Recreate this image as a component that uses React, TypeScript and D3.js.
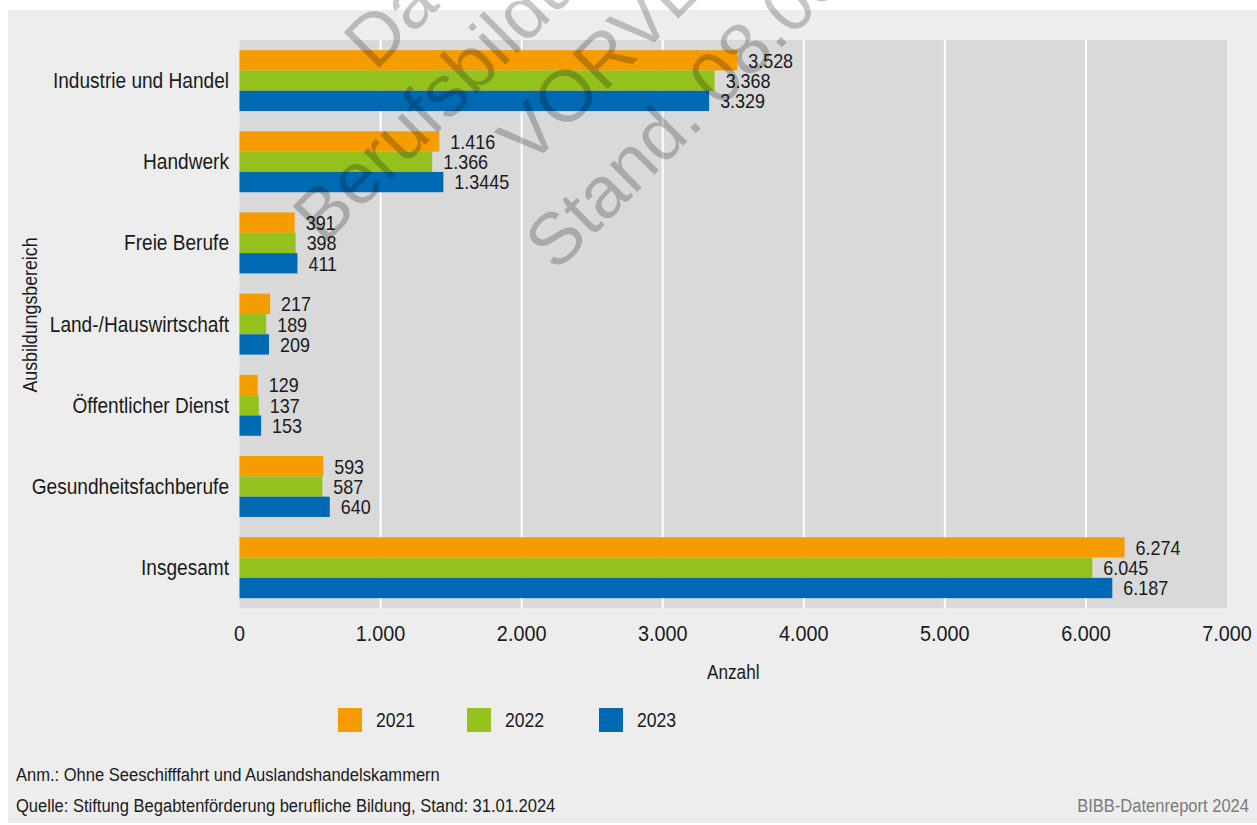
import React from "react";
import * as d3 from "d3";

const categories = [
  "Industrie und Handel",
  "Handwerk",
  "Freie Berufe",
  "Land-/Hauswirtschaft",
  "Öffentlicher Dienst",
  "Gesundheitsfachberufe",
  "Insgesamt",
];
const years = ["2021", "2022", "2023"];
const values2021 = [3528, 1416, 391, 217, 129, 593, 6274];
const values2022 = [3368, 1366, 398, 189, 137, 587, 6045];
const values2023 = [3329, 1445, 411, 209, 153, 640, 6187];
// label as printed in the source for Handwerk 2023
const printedLabels2023: (string | null)[] = [null, "1.3445", null, null, null, null, null];
const xTicks = [0, 1000, 2000, 3000, 4000, 5000, 6000, 7000];
const seriesColors = ["#f59c00", "#95c11f", "#0069b4"];

const watermarkLines = ["Datenreport 2024", "Berufsbildungsbericht 2024", "VORVERSION", "Stand. 08.03.2024"];

const FONT = "'Liberation Sans', Arimo, Arial, sans-serif";
const SX = 0.88;
const TEXT = "#1a1a1a";

const deLocale = d3.formatLocale({
  decimal: ",",
  thousands: ".",
  grouping: [3],
  currency: ["", " €"],
});
const fmt = deLocale.format(",d");

type TProps = {
  x: number;
  y: number;
  size: number;
  anchor?: "start" | "middle" | "end";
  fill?: string;
  rotate?: number;
  children: React.ReactNode;
};

function T({ x, y, size, anchor = "start", fill = TEXT, rotate = 0, children }: TProps) {
  return (
    <g transform={`translate(${x},${y}) rotate(${rotate}) scale(${SX},1)`}>
      <text x={0} y={0} textAnchor={anchor} dominantBaseline="central" fontSize={size} fill={fill}>
        {children}
      </text>
    </g>
  );
}

export default function App() {
  const W = 1257;
  const H = 825;
  const plot = { left: 239.5, right: 1227, top: 40, bottom: 608.3 };

  const x = d3.scaleLinear().domain([0, 7000]).range([plot.left, plot.right]);
  const y = d3
    .scaleBand<string>()
    .domain(categories)
    .range([plot.top, plot.bottom])
    .paddingInner(0.25)
    .paddingOuter(0.125);
  const sub = d3.scaleBand<string>().domain(years).range([0, y.bandwidth()]);

  const series = [values2021, values2022, values2023];

  const legendX = [338, 467, 599];

  const wmStarts: [number, number][] = [
    [375, 72],
    [324, 246],
    [529, 168],
    [556, 273],
  ];

  return (
    <svg
      width={W}
      height={H}
      style={{ position: "absolute", left: 0, top: 0, display: "block" }}
      fontFamily={FONT}
    >
      <rect x={0} y={0} width={W} height={H} fill="#ffffff" />
      <rect x={8} y={10} width={W - 8} height={813} fill="#ededed" />
      <rect
        x={plot.left}
        y={plot.top}
        width={plot.right - plot.left}
        height={plot.bottom - plot.top}
        fill="#d9d9d9"
      />
      {xTicks
        .filter((t) => t > 0 && t < 7000)
        .map((t) => (
          <line
            key={"g" + t}
            x1={x(t)}
            x2={x(t)}
            y1={plot.top}
            y2={plot.bottom}
            stroke="#ffffff"
            strokeWidth={2}
          />
        ))}

      {categories.map((c, i) => (
        <g key={c}>
          {series.map((vals, s) => {
            const yy = (y(c) as number) + (sub(years[s]) as number);
            const label = s === 2 && printedLabels2023[i] ? (printedLabels2023[i] as string) : fmt(vals[i]);
            return (
              <g key={s}>
                <rect
                  x={x(0)}
                  y={yy}
                  width={x(vals[i]) - x(0)}
                  height={sub.bandwidth()}
                  fill={seriesColors[s]}
                />
                <T x={x(vals[i]) + 11} y={yy + sub.bandwidth() / 2 + 0.5} size={20.4}>
                  {label}
                </T>
              </g>
            );
          })}
          <T x={229} y={(y(c) as number) + y.bandwidth() / 2} size={21.7} anchor="end">
            {c}
          </T>
        </g>
      ))}

      {xTicks.map((t) => (
        <T key={"t" + t} x={x(t)} y={633} size={22.5} anchor="middle">
          {fmt(t)}
        </T>
      ))}
      <T x={(plot.left + plot.right) / 2} y={672} size={19.5} anchor="middle">
        Anzahl
      </T>
      <T x={30} y={315} size={20.2} anchor="middle" rotate={-90}>
        Ausbildungsbereich
      </T>

      {years.map((yr, s) => (
        <g key={yr}>
          <rect x={legendX[s]} y={708} width={24} height={24} fill={seriesColors[s]} />
          <T x={legendX[s] + 38} y={720} size={20}>
            {yr}
          </T>
        </g>
      ))}

      <T x={16} y={775} size={18.8}>
        Anm.: Ohne Seeschifffahrt und Auslandshandelskammern
      </T>
      <T x={16} y={806} size={18.8}>
        Quelle: Stiftung Begabtenförderung berufliche Bildung, Stand: 31.01.2024
      </T>
      <T x={1249} y={806} size={18.8} anchor="end" fill="#7a7a7a">
        BIBB-Datenreport 2024
      </T>

      <g fontFamily="'Liberation Sans', Arial, sans-serif" fontSize={73} fill="#000" fillOpacity={0.22}>
        {watermarkLines.map((l, i) => (
          <text key={l} transform={`translate(${wmStarts[i][0]},${wmStarts[i][1]}) rotate(-45)`}>
            {l}
          </text>
        ))}
      </g>
    </svg>
  );
}
